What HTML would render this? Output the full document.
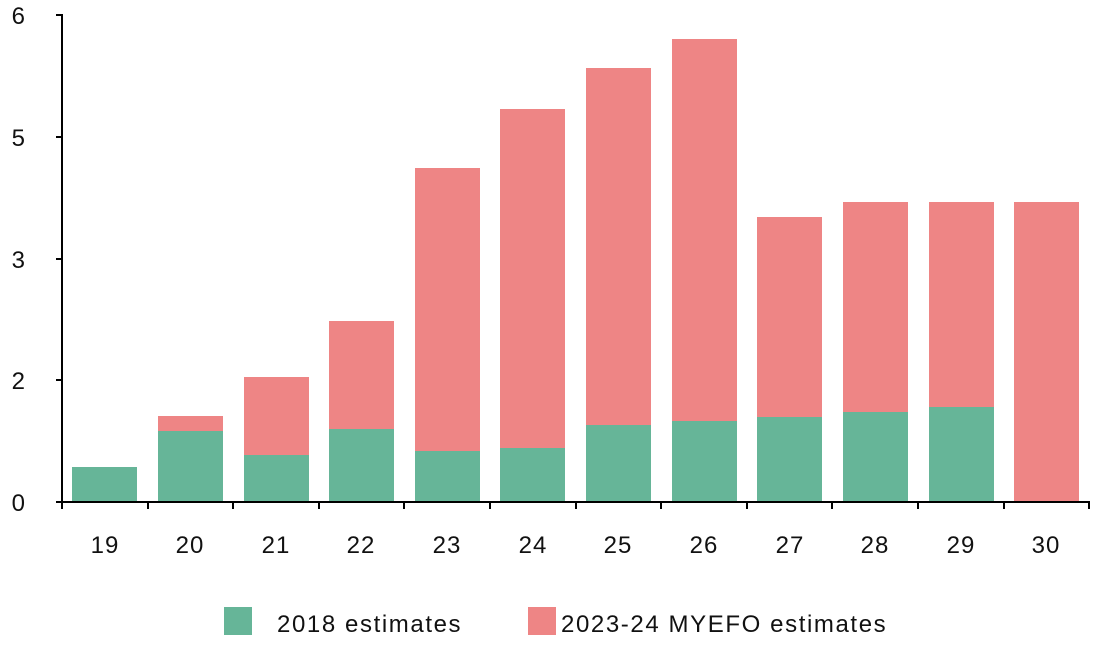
<!DOCTYPE html>
<html><head><meta charset="utf-8"><style>
html,body{margin:0;padding:0;background:#fff;}
svg text{font-family:"Liberation Sans",sans-serif;font-size:24px;fill:#111;}
.tk{letter-spacing:1px;}
.lg{letter-spacing:1.6px;}
</style></head><body>
<svg width="1100" height="640" viewBox="0 0 1100 640" xmlns="http://www.w3.org/2000/svg">
<g fill="#66b598">
<rect x="72" y="467" width="65" height="35"/>
<rect x="158" y="431" width="65" height="71"/>
<rect x="244" y="455" width="65" height="47"/>
<rect x="329" y="429" width="65" height="73"/>
<rect x="415" y="451" width="65" height="51"/>
<rect x="500" y="448" width="65" height="54"/>
<rect x="586" y="425" width="65" height="77"/>
<rect x="672" y="421" width="65" height="81"/>
<rect x="757" y="417" width="65" height="85"/>
<rect x="843" y="412" width="65" height="90"/>
<rect x="929" y="407" width="65" height="95"/>
</g>
<g fill="#ee8585">
<rect x="158" y="416" width="65" height="15"/>
<rect x="244" y="377" width="65" height="78"/>
<rect x="329" y="321" width="65" height="108"/>
<rect x="415" y="168" width="65" height="283"/>
<rect x="500" y="109" width="65" height="339"/>
<rect x="586" y="68" width="65" height="357"/>
<rect x="672" y="39" width="65" height="382"/>
<rect x="757" y="217" width="65" height="200"/>
<rect x="843" y="202" width="65" height="210"/>
<rect x="929" y="202" width="65" height="205"/>
<rect x="1014" y="202" width="65" height="300"/>
</g>
<g stroke="#000" stroke-width="2" fill="none">
<line x1="62" y1="14" x2="62" y2="503"/>
<line x1="61" y1="502" x2="1090" y2="502"/>
<line x1="56" y1="15" x2="62" y2="15"/>
<line x1="56" y1="137" x2="62" y2="137"/>
<line x1="56" y1="259" x2="62" y2="259"/>
<line x1="56" y1="380" x2="62" y2="380"/>
<line x1="56" y1="502" x2="62" y2="502"/>
<line x1="148" y1="502" x2="148" y2="509"/>
<line x1="233" y1="502" x2="233" y2="509"/>
<line x1="319" y1="502" x2="319" y2="509"/>
<line x1="404" y1="502" x2="404" y2="509"/>
<line x1="490" y1="502" x2="490" y2="509"/>
<line x1="576" y1="502" x2="576" y2="509"/>
<line x1="661" y1="502" x2="661" y2="509"/>
<line x1="747" y1="502" x2="747" y2="509"/>
<line x1="832" y1="502" x2="832" y2="509"/>
<line x1="918" y1="502" x2="918" y2="509"/>
<line x1="1004" y1="502" x2="1004" y2="509"/>
<line x1="1089" y1="502" x2="1089" y2="509"/>
<line x1="62" y1="502" x2="62" y2="509"/>
</g>
<g text-anchor="end">
<text x="25" y="24">6</text>
<text x="25" y="146">5</text>
<text x="25" y="268">3</text>
<text x="25" y="389">2</text>
<text x="25" y="511">0</text>
</g>
<g text-anchor="middle" class="tk">
<text x="105" y="553">19</text>
<text x="190" y="553">20</text>
<text x="276" y="553">21</text>
<text x="361" y="553">22</text>
<text x="447" y="553">23</text>
<text x="533" y="553">24</text>
<text x="618" y="553">25</text>
<text x="704" y="553">26</text>
<text x="790" y="553">27</text>
<text x="875" y="553">28</text>
<text x="961" y="553">29</text>
<text x="1046" y="553">30</text>
</g>
<rect x="224" y="607" width="28" height="28" fill="#66b598"/>
<text x="277" y="632" class="lg">2018 estimates</text>
<rect x="528" y="607" width="28" height="28" fill="#ee8585"/>
<text x="561" y="632" class="lg">2023-24 MYEFO estimates</text>
</svg>
</body></html>
